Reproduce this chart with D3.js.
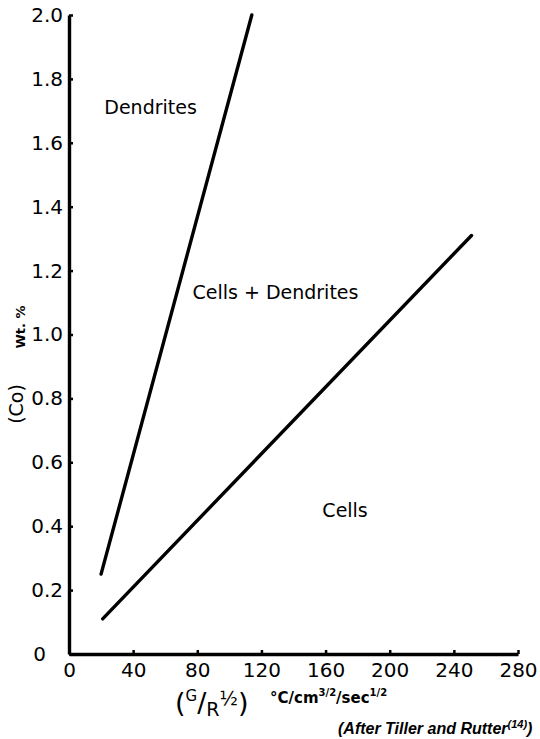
<!DOCTYPE html>
<html>
<head>
<meta charset="utf-8">
<script src="https://cdn.jsdelivr.net/npm/d3@7"></script>
<style>
  body { margin: 0; background: #fff; }
  svg { display: block; }
</style>
</head>
<body>
<svg width="540" height="739"></svg>
<script>
// ticks
const xTicks = [0, 40, 80, 120, 160, 200, 240, 280];
const yTicks = [0, 0.2, 0.4, 0.6, 0.8, 1.0, 1.2, 1.4, 1.6, 1.8, 2.0];

// boundary lines (G/R^1/2, Co wt.%)
const dendriteBoundary = [[20, 0.25], [114, 2.0]];
const cellBoundary = [[21, 0.11], [251, 1.31]];

// region labels, anchored at their left baseline in data units
const regionNames = ["Dendrites", "Cells + Dendrites", "Cells"];
const regionX = [22, 77, 158];
const regionY = [1.69, 1.11, 0.43];

const svg = d3.select("svg");
const font = "'DejaVu Sans', sans-serif";

var x = d3.scaleLinear().domain([0, 280]).range([69, 518]),
    y = d3.scaleLinear().domain([0, 2]).range([654, 15]);

var xAxis = d3.axisBottom(x).tickValues(xTicks).tickSize(-4).tickSizeOuter(0)
        .tickPadding(9).tickFormat(d3.format("d")),
    yAxis = d3.axisLeft(y).tickValues(yTicks).tickSize(-4).tickSizeOuter(0)
        .tickPadding(6).tickFormat(d => d === 0 ? "0" : d.toFixed(1));

var gx = svg.append("g")
    .attr("transform", "translate(0," + y(0) + ")")
    .call(xAxis);

var gy = svg.append("g")
    .attr("transform", "translate(" + x(0) + ",0)")
    .call(yAxis);

svg.selectAll(".domain").attr("stroke", "#000").attr("stroke-width", 3.4);
svg.selectAll(".tick line").attr("stroke", "#000").attr("stroke-width", 2.5);
svg.selectAll(".tick text")
    .attr("fill", "#000")
    .style("font-family", font)
    .style("font-size", "20px");

// the origin 0 on the y side sits further left in the original lettering
gy.selectAll(".tick").filter(d => d === 0).select("text").attr("x", -23);

var line = d3.line().x(d => x(d[0])).y(d => y(d[1]));

svg.selectAll("path.boundary")
    .data([dendriteBoundary, cellBoundary])
    .join("path")
    .attr("class", "boundary")
    .attr("d", line)
    .attr("fill", "none")
    .attr("stroke", "#000")
    .attr("stroke-width", 3.4)
    .attr("stroke-linecap", "round");

svg.selectAll("text.region")
    .data(regionNames)
    .join("text")
    .attr("class", "region")
    .attr("x", (d, i) => x(regionX[i]))
    .attr("y", (d, i) => y(regionY[i]))
    .style("font-family", font)
    .style("font-size", "19px")
    .text(d => d);

// y axis title (rotated)
svg.append("text")
    .attr("transform", "translate(25,327) rotate(-90)")
    .attr("text-anchor", "middle")
    .style("font-family", font)
    .style("font-size", "13px")
    .style("font-weight", "bold")
    .text("Wt. %");

svg.append("text")
    .attr("transform", "translate(23,404) rotate(-90)")
    .attr("text-anchor", "middle")
    .style("font-family", font)
    .style("font-size", "19px")
    .text("(Co)");

// x axis title
var xt = svg.append("text")
    .attr("x", 175)
    .attr("y", 712)
    .style("font-family", font)
    .style("font-size", "27px");
xt.append("tspan").text("(");
xt.append("tspan").attr("dy", -11).style("font-size", "15px").text("G");
xt.append("tspan").attr("dy", 11).text("/");
xt.append("tspan").attr("dy", 4).style("font-size", "19px").text("R");
xt.append("tspan").attr("dy", -11).style("font-size", "19px").text("½");
xt.append("tspan").attr("dy", 7).text(")");

var xu = svg.append("text")
    .attr("x", 270)
    .attr("y", 703)
    .style("font-family", font)
    .style("font-size", "15px")
    .style("font-weight", "bold");
xu.append("tspan").text("°C/cm");
xu.append("tspan").attr("dy", -7).style("font-size", "10px").text("3/2");
xu.append("tspan").attr("dy", 7).text("/sec");
xu.append("tspan").attr("dy", -7).style("font-size", "10px").text("1/2");

// source note
var note = svg.append("text")
    .attr("x", 338)
    .attr("y", 734)
    .style("font-family", "'Liberation Sans', Arial, sans-serif")
    .style("font-size", "16px")
    .style("font-weight", "bold")
    .style("font-style", "italic");
note.append("tspan").text("(After Tiller and Rutter");
note.append("tspan").attr("dy", -6).style("font-size", "11px").text("(14)");
note.append("tspan").attr("dy", 6).text(")");
</script>
</body>
</html>
